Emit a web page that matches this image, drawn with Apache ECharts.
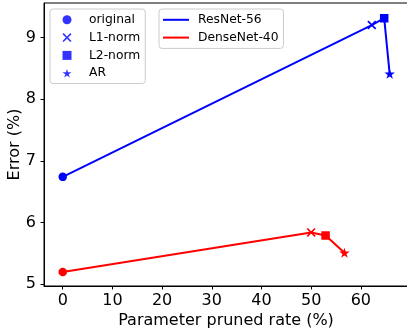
<!DOCTYPE html>
<html>
<head>
<meta charset="utf-8">
<script src="https://cdn.jsdelivr.net/npm/echarts@6/dist/echarts.min.js"></script>
<style>
html,body{margin:0;padding:0;background:#fff;}
#chart{width:407px;height:329px;}
</style>
</head>
<body>
<div id="chart"></div>
<script>
// ---- data ----
var methods = ['original', 'L1-norm', 'L2-norm', 'AR'];
var resnetRate = [0, 62.2, 64.7, 65.8];
var resnetErr = [6.74, 9.20, 9.31, 8.41];
var densenetRate = [0, 50.0, 52.9, 56.7];
var densenetErr = [5.20, 5.84, 5.79, 5.51];
var xTicks = [0, 10, 20, 30, 40, 50, 60];
var yTicks = [5, 6, 7, 8, 9];
var networks = ['ResNet-56', 'DenseNet-40'];

// ---- styling ----
var FONT = 'DejaVu Sans';
var BLUE = '#0000ff', RED = '#ff0000';
var X_PATH = 'path://M0,1.3 L1.3,0 L5,3.7 L8.7,0 L10,1.3 L6.3,5 L10,8.7 L8.7,10 L5,6.3 L1.3,10 L0,8.7 L3.7,5 Z';
var STAR_PATH = 'path://M10,0 L12.245,6.91 L19.51,6.91 L13.63,11.18 L15.88,18.09 L10,13.82 L4.12,18.09 L6.37,11.18 L0.49,6.91 L7.755,6.91 Z';
var symbols = ['circle', X_PATH, 'rect', STAR_PATH];
var sizes = [8.5, 9, 8.5, 10.5];

function buildData(xs, ys) {
  return xs.map(function (x, i) {
    return { value: [x, ys[i]], symbol: symbols[i], symbolSize: sizes[i] };
  });
}

var series = [
  {
    name: networks[0], type: 'line', data: buildData(resnetRate, resnetErr),
    color: BLUE, lineStyle: { color: BLUE, width: 2 }, itemStyle: { color: BLUE },
    symbolKeepAspect: true, showSymbol: true, z: 3
  },
  {
    name: networks[1], type: 'line', data: buildData(densenetRate, densenetErr),
    color: RED, lineStyle: { color: RED, width: 2 }, itemStyle: { color: RED },
    symbolKeepAspect: true, showSymbol: true, z: 3
  }
];
methods.forEach(function (m, i) {
  series.push({ name: m, type: 'scatter', data: [], color: BLUE, itemStyle: { color: BLUE }, symbol: symbols[i] });
});

var chart = echarts.init(document.getElementById('chart'), null, { renderer: 'canvas' });
chart.setOption({
  animation: false,
  backgroundColor: '#fff',
  textStyle: { fontFamily: FONT },
  grid: { left: 44, right: -1, top: 3, bottom: 43, outerBoundsMode: 'none', containLabel: false, show: true, borderColor: '#000', borderWidth: 1, backgroundColor: 'transparent' },
  legend: [
    {
      orient: 'vertical', left: 50, top: 9,
      padding: [3.5, 5, 3, 12.5],
      itemWidth: 9, itemHeight: 9, itemGap: 3.2,
      backgroundColor: 'rgba(255,255,255,0.8)', borderColor: '#cccccc', borderWidth: 1, borderRadius: 3,
      textStyle: { fontFamily: FONT, fontSize: 12.3, color: '#000', lineHeight: 14.6, padding: [0, 0, 0, 12.5] },
      data: methods.map(function (m, i) { return { name: m, icon: symbols[i] }; }),
      selectedMode: false
    },
    {
      orient: 'vertical', left: 159, top: 9,
      padding: [3.5, 5, 3.5, 4],
      itemWidth: 26, itemHeight: 14.6, itemGap: 3.2,
      backgroundColor: 'rgba(255,255,255,0.8)', borderColor: '#cccccc', borderWidth: 1, borderRadius: 3,
      textStyle: { fontFamily: FONT, fontSize: 12.3, color: '#000', lineHeight: 14.6, padding: [0, 0, 0, 4] },
      data: networks.map(function (n) { return { name: n, icon: 'path://M0,0 L26,0 L26,2 L0,2 Z' }; }),
      selectedMode: false
    }
  ],
  xAxis: {
    type: 'value', min: -3.77, max: 69.49,
    name: 'Parameter pruned rate (%)', nameLocation: 'middle', nameGap: 26.5, nameMoveOverlap: false,
    nameTextStyle: { fontFamily: FONT, fontSize: 16, color: '#000' },
    axisLine: { show: true, onZero: false, lineStyle: { color: '#000', width: 1 } },
    axisTick: { show: true, inside: false, length: 3.5, lineStyle: { color: '#000' }, customValues: xTicks },
    axisLabel: { fontFamily: FONT, fontSize: 16, color: '#000', margin: 7, customValues: xTicks },
    splitLine: { show: false }
  },
  yAxis: {
    type: 'value', min: 4.972, max: 9.557,
    name: 'Error (%)', nameLocation: 'middle', nameGap: 21, nameRotate: 90, nameMoveOverlap: false,
    nameTextStyle: { fontFamily: FONT, fontSize: 16, color: '#000' },
    axisLine: { show: true, onZero: false, lineStyle: { color: '#000', width: 1 } },
    axisTick: { show: true, inside: false, length: 3.5, lineStyle: { color: '#000' }, customValues: yTicks },
    axisLabel: { fontFamily: FONT, fontSize: 16, color: '#000', margin: 8, customValues: yTicks },
    splitLine: { show: false }
  },
  series: series
});
</script>
</body>
</html>
